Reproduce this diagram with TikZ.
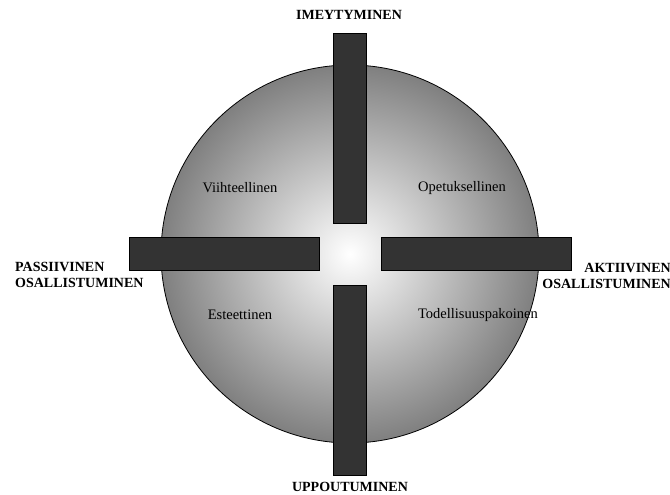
\documentclass[tikz,border=0pt]{standalone}
\usepackage{fontspec}
\setmainfont{Liberation Serif}
\usetikzlibrary{calc}
\definecolor{barfill}{HTML}{333333}
\begin{document}
\begin{tikzpicture}[x=1pt,y=-1pt,
  hbar/.style={draw,fill=barfill,line width=.8pt,inner sep=0pt,minimum width=190pt,minimum height=32.5pt},
  vbar/.style={hbar,minimum width=32.5pt,minimum height=190pt},
  axislabel/.style={font=\bfseries\fontsize{14}{16}\selectfont,inner sep=0pt},
  quad/.style={font=\fontsize{14.5}{17}\selectfont,inner sep=0pt}]
  \useasboundingbox (0,0) rectangle (670,495);
  \coordinate (C) at (350,254);
  \node[circle,draw,line width=.8pt,inner sep=0pt,minimum size=378pt,inner color=white,outer color=black!50] (disc) at (C) {};
  \node[vbar] (barN) at ($(C)+(0,-126)$) {};
  \node[vbar] (barS) at ($(C)+(0,126)$) {};
  \node[hbar] (barW) at ($(C)+(-126,0)$) {};
  \node[hbar] (barE) at ($(C)+(126,0)$) {};
  % akselit
  \node[axislabel] (imey) at (349,15) {IMEYTYMINEN};
  \node[axislabel] (uppo) at (350,487) {UPPOUTUMINEN};
  \node[axislabel,align=left,anchor=west] (passiivi) at (15,275) {PASSIIVINEN\\OSALLISTUMINEN};
  \node[axislabel,align=right,anchor=east] (aktiivi) at (671,276) {AKTIIVINEN\\OSALLISTUMINEN};
  % nelikentta
  \node[quad] (viihde) at (240,188) {Viihteellinen};
  \node[quad] (opetus) at (462,188) {Opetuksellinen};
  \node[quad] (este) at (240,315) {Esteettinen};
  \node[quad] (pako) at (478,315) {Todellisuuspakoinen};
\end{tikzpicture}
\end{document}
